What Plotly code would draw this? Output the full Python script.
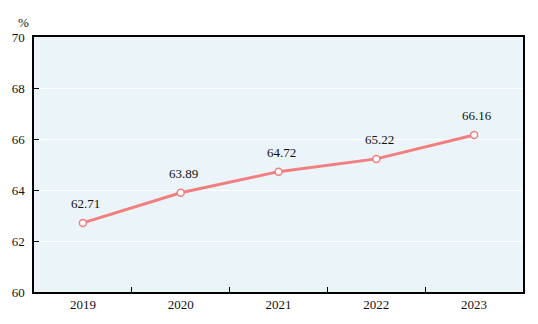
import plotly.graph_objects as go

years = ["2019", "2020", "2021", "2022", "2023"]
values = [62.71, 63.89, 64.72, 65.22, 66.16]
value_labels = ["62.71", "63.89", "64.72", "65.22", "66.16"]

line_color = "#F27E7E"
font = dict(family="Liberation Serif", size=13, color="#111111")

fig = go.Figure()
fig.add_trace(go.Scatter(
    x=years, y=values, mode="lines+markers",
    line=dict(color=line_color, width=3),
    marker=dict(size=7, color="white", line=dict(color=line_color, width=1.5)),
    hoverinfo="skip", showlegend=False,
))
for i, (v, lab) in enumerate(zip(values, value_labels)):
    fig.add_annotation(x=i, y=v, xref="x", yref="y", text=lab, showarrow=False,
                       yshift=19, xshift=3, font=font)

fig.add_annotation(xref="paper", yref="paper", x=-0.022, y=1.0, yshift=15,
                   text="%", showarrow=False, xanchor="center", yanchor="middle",
                   font=font)

fig.update_layout(
    width=538, height=324,
    margin=dict(l=31, r=15, t=37, b=31),
    paper_bgcolor="white",
    plot_bgcolor="#EBF4F8",
    font=font,
    xaxis=dict(
        type="category", tickson="boundaries", ticks="inside", ticklen=5,
        tickcolor="black", showgrid=False, showline=True, linecolor="black",
        linewidth=1.5, mirror=True, tickfont=font, range=[-0.5, 4.5],
    ),
    yaxis=dict(
        range=[60, 70], dtick=2, ticks="inside", ticklen=5, tickcolor="black",
        showgrid=True, gridcolor="white", gridwidth=1.2, showline=True,
        linecolor="black", linewidth=1.5, mirror=True, tickfont=font,
        zeroline=False, ticklabelstandoff=5,
    ),
)

fig.write_html("out.html")
